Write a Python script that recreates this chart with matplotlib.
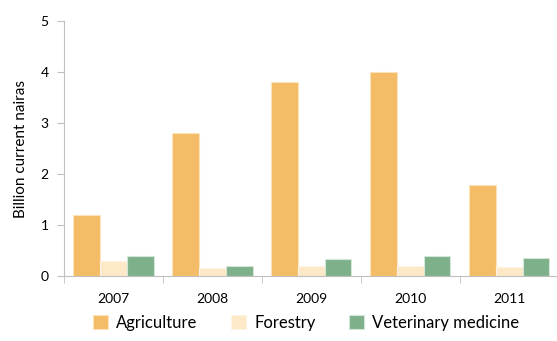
import numpy as np
import matplotlib.pyplot as plt

years = ['2007', '2008', '2009', '2010', '2011']
agriculture = [1.19, 2.80, 3.80, 4.00, 1.78]
forestry = [0.29, 0.15, 0.20, 0.20, 0.17]
veterinary = [0.39, 0.20, 0.34, 0.39, 0.36]

plt.rcParams['font.family'] = ['Lato', 'DejaVu Sans']

fig = plt.figure(figsize=(5.57, 3.41), dpi=100)
ax = fig.add_axes([0.115, 0.191, 0.888, 0.747])

x = np.arange(len(years))
w = 0.27
ax.bar(x - w, agriculture, w, color='#F5BC67', edgecolor='#FCE3BC', linewidth=0.8, label='Agriculture')
ax.bar(x, forestry, w, color='#FDE9C8', edgecolor='#FEF4E4', linewidth=0.8, label='Forestry')
ax.bar(x + w, veterinary, w, color='#7EB18A', edgecolor='#D3E7D8', linewidth=0.8, label='Veterinary medicine')

ax.set_xlim(-0.5, 4.5)
ax.set_ylim(0, 5)
ax.set_yticks(range(6))
ax.set_xticks(x)
ax.set_xticklabels(years)
ax.set_xticks(np.arange(-0.5, 5, 1), minor=True)
ax.tick_params(axis='x', which='major', length=0, labelsize=10, pad=12)
ax.tick_params(axis='x', which='minor', length=5, color='#BFBFBF', direction='out')
ax.tick_params(axis='y', length=5, color='#BFBFBF', labelsize=10, pad=6)
for s in ['top', 'right']:
    ax.spines[s].set_visible(False)
for s in ['left', 'bottom']:
    ax.spines[s].set_color('#BFBFBF')
ax.set_ylabel('Billion current nairas', fontsize=11, labelpad=9)

fig.legend(loc='lower center', bbox_to_anchor=(0.55, -0.015), ncol=3, frameon=False,
           fontsize=12, handlelength=0.9, handleheight=0.9, columnspacing=2.0, handletextpad=0.5)

fig.savefig('out.png', dpi=100)
